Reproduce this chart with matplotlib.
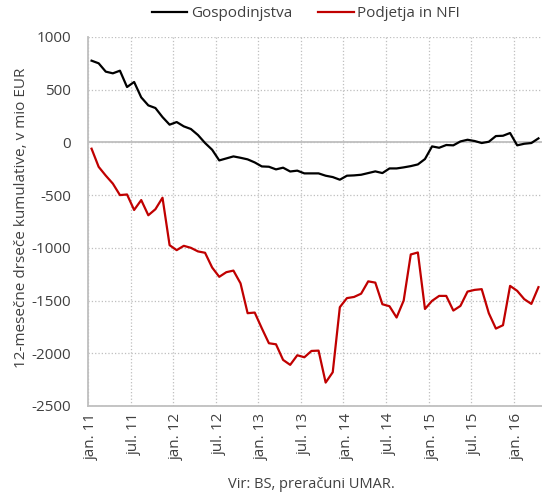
import numpy as np
import matplotlib.pyplot as plt
from matplotlib.ticker import FixedLocator

plt.rcParams['font.family'] = ['Open Sans', 'DejaVu Sans']
plt.rcParams['axes.unicode_minus'] = False

# monthly, jan 2011 - apr 2016 (12-month rolling sums, mio EUR)
gospodinjstva = [775, 750, 671, 655, 680, 525, 573, 427, 351, 326,
                 240, 168, 193, 152, 127, 70, -6, -70, -171, -152,
                 -133, -146, -161, -190, -228, -231, -256, -240, -276, -268,
                 -294, -294, -294, -316, -329, -354, -316, -313, -307, -291,
                 -275, -291, -247, -247, -237, -225, -209, -158, -38, -51,
                 -25, -28, 9, 25, 13, -6, 6, 60, 63, 89,
                 -28, -13, -6, 38]
podjetja = [-60, -232, -315, -391, -500, -494, -641, -547, -691, -634,
            -525, -975, -1022, -981, -1000, -1034, -1047, -1187, -1275, -1231,
            -1216, -1337, -1620, -1614, -1763, -1905, -1915, -2063, -2110, -2019,
            -2038, -1978, -1975, -2278, -2180, -1563, -1477, -1466, -1435, -1318,
            -1330, -1535, -1554, -1661, -1500, -1063, -1044, -1580, -1503, -1456,
            -1456, -1595, -1551, -1415, -1399, -1392, -1620, -1766, -1734, -1361,
            -1408, -1487, -1532, -1373]
tick_labels = ['jan. 11', 'jul. 11', 'jan. 12', 'jul. 12', 'jan. 13', 'jul. 13',
               'jan. 14', 'jul. 14', 'jan. 15', 'jul. 15', 'jan. 16']

x = np.arange(len(gospodinjstva))
txt = '#404040'

fig = plt.figure(figsize=(5.42, 4.96), dpi=100)
ax = fig.add_axes([0.1624, 0.1815, 0.8376, 0.744])

ax.plot(x, gospodinjstva, color='black', lw=1.6, label='Gospodinjstva')
ax.plot(x, podjetja, color='#c00000', lw=1.6, label='Podjetja in NFI')
ax.axhline(0, color='#bfbfbf', lw=1.3, zorder=1)

ax.set_xlim(-0.5, len(x) - 0.5)
ax.set_ylim(-2500, 1000)
ax.set_yticks(np.arange(-2500, 1001, 500))

# labels centred on categories, grid at category boundaries
pos = np.arange(0, len(x), 6)[:len(tick_labels)]
ax.set_xticks(pos)
ax.set_xticklabels(tick_labels, rotation=90)
ax.xaxis.set_minor_locator(FixedLocator(pos - 0.5))
ax.grid(True, which='minor', axis='x', color='#bfbfbf', ls=':', lw=0.9)
ax.grid(True, which='major', axis='y', color='#bfbfbf', ls=':', lw=0.9)
ax.tick_params(axis='both', which='both', length=0, labelsize=11, labelcolor=txt)
ax.tick_params(axis='y', pad=12)
ax.tick_params(axis='x', pad=5)

for s in ['top', 'right']:
    ax.spines[s].set_visible(False)
for s in ['left', 'bottom']:
    ax.spines[s].set_color('#bfbfbf')
    ax.spines[s].set_linewidth(1.3)

ax.set_ylabel('12-mesečne drseče kumulative, v mio EUR', fontsize=11, color=txt)
ax.yaxis.set_label_coords(-0.13, 0.51)

fig.legend(loc='center', bbox_to_anchor=(0.565, 0.972), ncol=2, frameon=False,
           fontsize=11, handlelength=2.3, columnspacing=1.7, handletextpad=0.25,
           labelcolor=txt)
fig.text(0.574, 0.024, 'Vir: BS, preračuni UMAR.', ha='center', va='center',
         fontsize=10.5, color=txt)

fig.savefig('out.png', dpi=100)
